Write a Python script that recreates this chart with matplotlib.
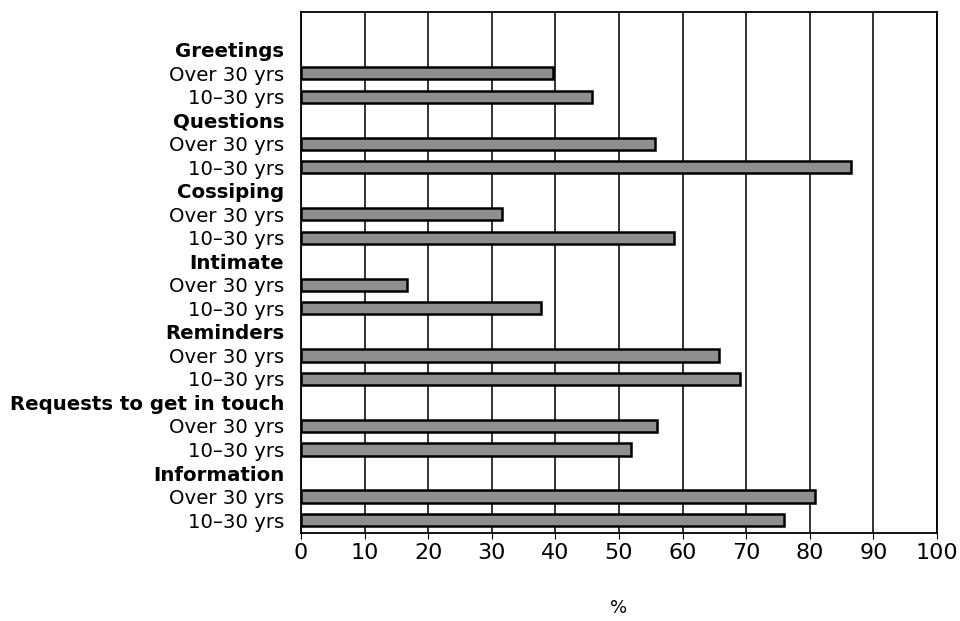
import numpy as np
import matplotlib
matplotlib.use("Agg")
import matplotlib.pyplot as plt

categories = ["Greetings", "Questions", "Cossiping", "Intimate", "Reminders",
              "Requests to get in touch", "Information"]
groups = ["Over 30 yrs", "10\u201330 yrs"]
over_30 = [39.6, 55.7, 31.6, 16.7, 65.7, 56.0, 80.8]
age_10_30 = [45.8, 86.5, 58.6, 37.7, 69.0, 51.9, 75.9]
x_ticks = list(range(0, 101, 10))

plt.rcParams['font.family'] = ['DejaVu Sans']

fig = plt.figure(figsize=(9.6, 6.21), dpi=100)
ax = fig.add_axes([301 / 960, 1 - 533 / 621, 636 / 960, 521 / 621])

# each category takes three rows: header, then the two age groups
labels, positions, bold = [], [], []
for i, cat in enumerate(categories):
    base = i * 3
    labels += [cat] + groups
    positions += [base, base + 1, base + 2]
    bold += [True, False, False]

rows_over = np.arange(len(categories)) * 3 + 1
rows_young = rows_over + 1
bar_kw = dict(height=0.52, color="#8f8f8f", edgecolor="black", linewidth=1.8, zorder=3)
ax.barh(rows_over, over_30, **bar_kw)
ax.barh(rows_young, age_10_30, **bar_kw)

ax.set_xlim(0, 100)
ax.set_ylim(20.55, -1.6)
ax.set_xticks(x_ticks)
ax.set_xticklabels([str(t) for t in x_ticks], fontsize=16)
ax.set_yticks(positions)
ax.set_yticklabels(labels, fontsize=14.2)
for lbl, b in zip(ax.get_yticklabels(), bold):
    if b:
        lbl.set_fontweight("bold")
ax.tick_params(axis="y", length=0, pad=12)
ax.tick_params(axis="x", length=4, pad=3, direction="out")
ax.grid(axis="x", color="#222222", linewidth=1.3, zorder=0)
for s in ax.spines.values():
    s.set_linewidth(1.3)
ax.set_xlabel("%", fontsize=13, labelpad=26)

fig.savefig("out.png", dpi=100)
